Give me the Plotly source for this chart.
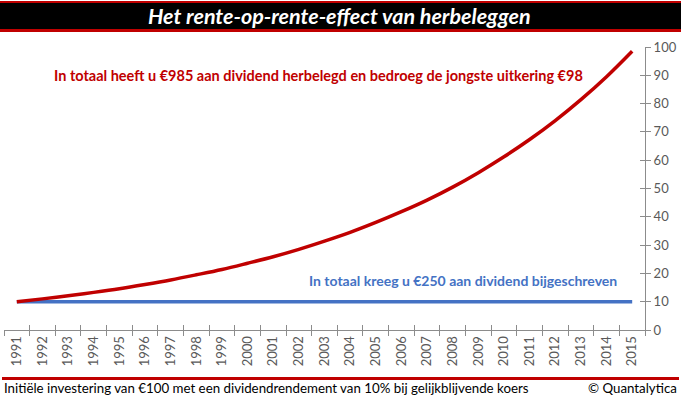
import plotly.graph_objects as go

years = [str(y) for y in range(1991, 2016)]
herbelegd = [10.0, 11.0, 12.1, 13.3, 14.6, 16.1, 17.7, 19.5, 21.4, 23.6, 25.9, 28.5,
             31.4, 34.5, 38.0, 41.8, 45.9, 50.5, 55.6, 61.2, 67.3, 74.0, 81.4, 89.5, 98.5]
bijgeschreven = [10.0] * 25
yticks = list(range(0, 101, 10))

title_text = "Het rente-op-rente-effect van herbeleggen"
red_note = "In totaal heeft u €985 aan dividend herbelegd en bedroeg de jongste uitkering €98"
blue_note = "In totaal kreeg u €250 aan dividend bijgeschreven"
footer_left = "Initiële investering van €100 met een dividendrendement van 10% bij gelijkblijvende koers"
footer_right = "© Quantalytica"

RED = "#C00000"
BLUE = "#4472C4"
AX = "#8C8C8C"
TXT = "#595959"
FONT = "Lato"

W, H = 681, 399
L, R, T, B = 4, 36, 47, 69
pw, ph = W - L - R, H - T - B


def px(x):
    return (x - L) / pw


def py(y):
    return (H - B - y) / ph


fig = go.Figure()
fig.add_trace(go.Scatter(x=years, y=bijgeschreven, mode="lines",
                         line=dict(color=BLUE, width=3.5), hoverinfo="skip"))
fig.add_trace(go.Scatter(x=years, y=herbelegd, mode="lines", line_shape="spline",
                         line=dict(color=RED, width=3.5), hoverinfo="skip"))
# invisible trace to carry the overlay axes (crossing ticks)
fig.add_trace(go.Scatter(x=years, y=bijgeschreven, xaxis="x2", yaxis="y2", mode="lines",
                         line=dict(width=0), opacity=0, hoverinfo="skip"))

common_x = dict(type="category", categoryorder="array", categoryarray=years,
                range=[-0.5, 24.5], tickson="boundaries", ticklen=5, tickcolor=AX,
                showgrid=False, zeroline=False, automargin=False)
fig.update_layout(
    width=W, height=H,
    margin=dict(l=L, r=R, t=T, b=B, autoexpand=False),
    paper_bgcolor="white", plot_bgcolor="white",
    showlegend=False,
    font=dict(family=FONT, color=TXT),
    xaxis=dict(**common_x, ticks="outside", showline=True, linecolor=AX, linewidth=1,
               tickangle=-90, tickfont=dict(family=FONT, size=13, color=TXT)),
    xaxis2=dict(**common_x, overlaying="x", ticks="inside", showline=False,
                showticklabels=False),
    yaxis=dict(range=[0, 100], tickvals=yticks, side="right", ticks="outside", ticklen=5,
               tickcolor=AX, showline=True, linecolor=AX, linewidth=1, showgrid=False,
               zeroline=False, automargin=False,
               tickfont=dict(family=FONT, size=13, color=TXT)),
    yaxis2=dict(range=[0, 100], tickvals=yticks, side="right", overlaying="y",
                ticks="inside", ticklen=5, tickcolor=AX, showline=False, showgrid=False,
                zeroline=False, showticklabels=False, automargin=False),
)

shapes = [
    dict(type="rect", xref="paper", yref="paper", x0=px(0), x1=px(W), y0=py(31), y1=py(1),
         fillcolor="black", line=dict(width=0), layer="above"),
    dict(type="rect", xref="paper", yref="paper", x0=px(0), x1=px(W), y0=py(3), y1=py(1),
         fillcolor=RED, line=dict(width=0), layer="above"),
    dict(type="rect", xref="paper", yref="paper", x0=px(0), x1=px(W), y0=py(32), y1=py(29),
         fillcolor=RED, line=dict(width=0), layer="above"),
    dict(type="rect", xref="paper", yref="paper", x0=px(2), x1=px(W - 2), y0=py(380),
         y1=py(377), fillcolor=RED, line=dict(width=0), layer="above"),
]
fig.update_layout(shapes=shapes)

annotations = [
    dict(text=title_text, xref="paper", yref="paper", x=px(339), y=py(16), showarrow=False,
         xanchor="center", yanchor="middle",
         font=dict(family=FONT, size=21.5, color="white", weight="bold", style="italic")),
    dict(text=red_note, xref="paper", yref="paper", x=px(318), y=py(75), showarrow=False,
         xanchor="center", yanchor="middle",
         font=dict(family=FONT, size=14.5, color=RED, weight="bold")),
    dict(text=blue_note, xref="paper", yref="paper", x=px(463), y=py(280), showarrow=False,
         xanchor="center", yanchor="middle",
         font=dict(family=FONT, size=14, color=BLUE, weight="bold")),
    dict(text=footer_left, xref="paper", yref="paper", x=px(2), y=py(388), showarrow=False,
         xanchor="left", yanchor="middle", font=dict(family=FONT, size=13.3, color="black")),
    dict(text=footer_right, xref="paper", yref="paper", x=px(679), y=py(388),
         showarrow=False, xanchor="right", yanchor="middle",
         font=dict(family=FONT, size=13.3, color="black")),
]
fig.update_layout(annotations=annotations)

fig.write_html("out.html", config={"displayModeBar": False},
               post_script="document.body.style.margin='0';document.body.style.padding='0';")
